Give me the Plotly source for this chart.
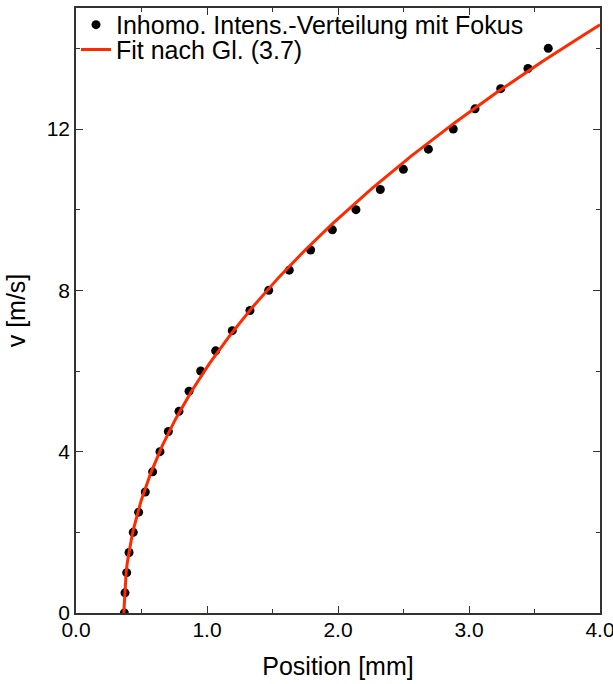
import numpy as np
import plotly.graph_objects as go

# measured data points
pos_mm = [0.369, 0.374, 0.387, 0.405, 0.437, 0.478, 0.529, 0.585, 0.641, 0.705,
          0.786, 0.863, 0.952, 1.066, 1.193, 1.328, 1.471, 1.628, 1.791, 1.957,
          2.137, 2.323, 2.499, 2.690, 2.880, 3.046, 3.242, 3.450, 3.605]
v_ms = [0.0, 0.5, 1.0, 1.5, 2.0, 2.5, 3.0, 3.5, 4.0, 4.5,
        5.0, 5.5, 6.0, 6.5, 7.0, 7.5, 8.0, 8.5, 9.0, 9.5,
        10.0, 10.5, 11.0, 11.5, 12.0, 12.5, 13.0, 13.5, 14.0]

# fit parameters (Gl. 3.7): v = sqrt(k * (x - x0))
fit_x0 = 0.365
fit_k = 58.5
fit_x = np.linspace(fit_x0, 4.0, 400)
fit_v = np.sqrt(fit_k * (fit_x - fit_x0))

x_ticks = [0.0, 1.0, 2.0, 3.0, 4.0]
y_ticks = [0, 4, 8, 12]

font = "Liberation Sans, Arial, Helvetica, sans-serif"

fig = go.Figure()
fig.add_trace(go.Scatter(x=pos_mm, y=v_ms, mode="markers",
                         name="Inhomo. Intens.-Verteilung mit Fokus",
                         marker=dict(color="black", size=9),
                         legend="legend", showlegend=True))
fig.add_trace(go.Scatter(x=fit_x, y=fit_v, mode="lines",
                         name="Fit nach Gl. (3.7)",
                         line=dict(color="#ff2a00", width=3),
                         legend="legend2", showlegend=True))

axis_common = dict(showgrid=False, zeroline=False, showline=True,
                   linecolor="#333", linewidth=1.5, mirror="allticks",
                   ticks="inside", ticklen=7, tickwidth=1, tickcolor="#333",
                   automargin=False, ticklabeloverflow="allow",
                   tickfont=dict(size=21, color="black", family=font))

fig.update_xaxes(range=[0, 4], tickvals=x_ticks,
                 ticktext=[f"{t:.1f}" for t in x_ticks],
                 ticklabelstandoff=-3,
                 minor=dict(dtick=0.5, ticks="inside", ticklen=4, tickcolor="#333"),
                 title=dict(text="Position [mm]", font=dict(size=25, family=font, color="black"),
                            standoff=18),
                 **axis_common)
fig.update_yaxes(range=[0, 15], tickvals=y_ticks,
                 minor=dict(dtick=2, ticks="inside", ticklen=4, tickcolor="#333"),
                 title=dict(text="v [m/s]", font=dict(size=25, family=font, color="black"),
                            standoff=14),
                 **axis_common)

leg_common = dict(x=0.0, xanchor="left", yanchor="middle", visible=True,
                  bgcolor="rgba(0,0,0,0)", font=dict(size=25, family=font, color="black"),
                  tracegroupgap=0, itemwidth=30)

fig.update_layout(
    width=613, height=684,
    margin=dict(l=76, r=13, t=8, b=71, autoexpand=False),
    plot_bgcolor="white", paper_bgcolor="white",
    font=dict(family=font, color="black"),
    showlegend=True,
    legend=dict(y=0.972, **leg_common),
    legend2=dict(y=0.931, **leg_common),
)

fig.write_html("out.html")
